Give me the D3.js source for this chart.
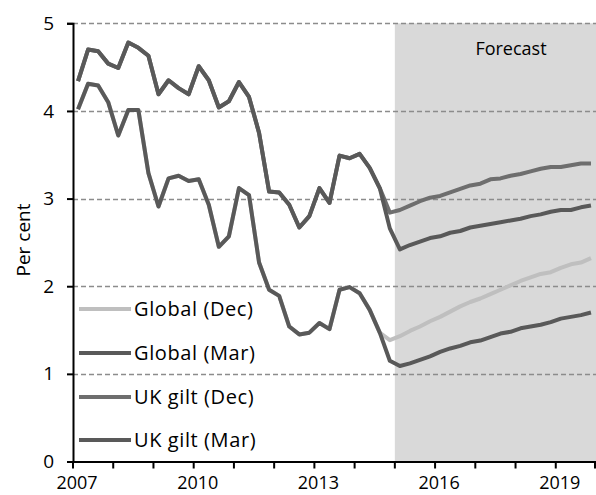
<!DOCTYPE html>
<html>
<head>
<meta charset="utf-8">
<script src="https://cdn.jsdelivr.net/npm/d3@7"></script>
<style>
body { margin: 0; background: #fff; }
svg text { font-family: "Open Sans", "DejaVu Sans", sans-serif; fill: #000; }
</style>
</head>
<body>
<div id="chart"></div>
<script>
// quarters 2007Q1 .. 2019Q4
var quarters = [];
for (var yr = 2007; yr <= 2019; yr++) {
	for (var q = 1; q <= 4; q++) quarters.push(yr + "Q" + q);
}
var yearLabels = ["2007", "2010", "2013", "2016", "2019"];
var yTicks = [0, 1, 2, 3, 4, 5];
var forecastStart = "2015Q1";

// history shared by Dec and Mar vintages (2007Q1 .. 2014Q3)
var globalHist = [4.02, 4.31, 4.29, 4.10, 3.72, 4.01, 4.01, 3.29, 2.91, 3.23, 3.26, 3.20,
	3.22, 2.93, 2.45, 2.57, 3.12, 3.04, 2.27, 1.96, 1.89, 1.54, 1.45, 1.47,
	1.58, 1.51, 1.96, 1.99, 1.92, 1.73, 1.47];
var ukHist = [4.34, 4.70, 4.68, 4.54, 4.49, 4.78, 4.72, 4.63, 4.19, 4.35, 4.26, 4.19,
	4.51, 4.35, 4.04, 4.11, 4.33, 4.16, 3.75, 3.08, 3.07, 2.93, 2.67, 2.80,
	3.12, 2.95, 3.49, 3.46, 3.51, 3.35, 3.12];

// from 2014Q4 on
var globalDec = [1.385, 1.43, 1.49, 1.54, 1.60, 1.65, 1.71, 1.77, 1.82, 1.86, 1.91,
	1.96, 2.01, 2.06, 2.10, 2.14, 2.16, 2.21, 2.25, 2.27, 2.32];
var globalMar = [1.15, 1.09, 1.12, 1.16, 1.20, 1.25, 1.29, 1.32, 1.36, 1.38, 1.42,
	1.46, 1.48, 1.52, 1.54, 1.56, 1.59, 1.63, 1.65, 1.67, 1.70];
var ukDec = [2.84, 2.87, 2.92, 2.97, 3.01, 3.03, 3.07, 3.11, 3.15, 3.17, 3.22,
	3.23, 3.26, 3.28, 3.31, 3.34, 3.36, 3.36, 3.38, 3.40, 3.40];
var ukMar = [2.66, 2.42, 2.47, 2.51, 2.55, 2.57, 2.61, 2.63, 2.67, 2.69, 2.71,
	2.73, 2.75, 2.77, 2.80, 2.82, 2.85, 2.87, 2.87, 2.90, 2.92];

var seriesNames = ["Global (Dec)", "Global (Mar)", "UK gilt (Dec)", "UK gilt (Mar)"];
var seriesColors = ["#bfbfbf", "#595959", "#6e6e6e", "#595959"];
var seriesValues = [globalHist.concat(globalDec), globalHist.concat(globalMar),
	ukHist.concat(ukDec), ukHist.concat(ukMar)];

var width = 596, height = 495;
var margin = {left: 73, right: 0, top: 23, bottom: 33};
var fontSize = "19px";

var svgContainer = d3.select("#chart").append("svg")
	.attr("width", width)
	.attr("height", height);

var x = d3.scaleBand()
	.domain(quarters)
	.range([margin.left, width - margin.right]);
var y = d3.scaleLinear()
	.domain([0, 5])
	.range([height - margin.bottom - 0.5, margin.top + 0.3]);

// forecast shading
svgContainer.append("rect")
	.attr("x", x(forecastStart))
	.attr("y", y(5))
	.attr("width", width - margin.right - x(forecastStart))
	.attr("height", y(0) - y(5))
	.attr("fill", "#d9d9d9");

// dashed gridlines
svgContainer.append("g").selectAll("line")
	.data(yTicks.filter(function(d){ return d > 0; }))
	.enter().append("line")
	.attr("x1", margin.left)
	.attr("x2", width)
	.attr("y1", function(d){ return Math.round(y(d)) + 0.5; })
	.attr("y2", function(d){ return Math.round(y(d)) + 0.5; })
	.attr("stroke", "#8c8c8c")
	.attr("stroke-width", 1.5)
	.attr("stroke-dasharray", "5,3");

svgContainer.append("text")
	.attr("x", 511)
	.attr("y", 55)
	.attr("text-anchor", "middle")
	.style("font-size", "18px")
	.text("Forecast");

// lines
var line = d3.line()
	.x(function(d, i){ return x(quarters[i]) + x.bandwidth() / 2; })
	.y(function(d){ return y(d); });

for (var s = 0; s < seriesValues.length; s++) {
	svgContainer.append("path")
		.datum(seriesValues[s])
		.attr("d", line)
		.attr("fill", "none")
		.attr("stroke", seriesColors[s])
		.attr("stroke-width", 4)
		.attr("stroke-linejoin", "round");
}

// y axis
var yAxis = d3.axisLeft(y).tickValues(yTicks).tickSize(6).tickFormat(d3.format("d"));
var gy = svgContainer.append("g")
	.attr("transform", "translate(" + margin.left + ",0)")
	.call(yAxis);
gy.select(".domain").attr("stroke", "#000").attr("stroke-width", 2);
gy.selectAll(".tick line").attr("stroke", "#000").attr("stroke-width", 2);
gy.selectAll(".tick text").style("font-size", fontSize).attr("x", -19)
	.style("font-family", "'Open Sans', 'DejaVu Sans', sans-serif");

// x axis: tick per year, label every 3 years
var xAxis = d3.axisBottom(x)
	.tickValues(quarters.filter(function(d){ return d.slice(4) == "Q1"; }))
	.tickSize(0)
	.tickFormat("");
var gx = svgContainer.append("g")
	.attr("transform", "translate(0," + y(0) + ")")
	.call(xAxis);
gx.select(".domain").attr("stroke", "#000").attr("stroke-width", 2);
gx.selectAll(".tick").remove();

var yearTicks = quarters.filter(function(d){ return d.slice(4) == "Q1"; });
yearTicks.push("end");
gx.selectAll("line.yt")
	.data(yearTicks)
	.enter().append("line")
	.attr("class", "yt")
	.attr("x1", function(d){ return d == "end" ? width - 1 : x(d); })
	.attr("x2", function(d){ return d == "end" ? width - 1 : x(d); })
	.attr("y1", 0)
	.attr("y2", 7)
	.attr("stroke", "#000")
	.attr("stroke-width", 2);

gx.selectAll("text.yl")
	.data(yearLabels)
	.enter().append("text")
	.attr("class", "yl")
	.attr("x", function(d){ return x(d + "Q1") + x.bandwidth() / 2 - 1; })
	.attr("y", 27)
	.attr("text-anchor", "middle")
	.style("font-size", "18px")
	.text(function(d){ return d; });

// y title
svgContainer.append("text")
	.attr("transform", "translate(30,240) rotate(-90)")
	.attr("text-anchor", "middle")
	.style("font-size", fontSize)
	.text("Per cent");

// legend
var legendY = [309, 353, 397, 440];
for (var k = 0; k < seriesNames.length; k++) {
	svgContainer.append("line")
		.attr("x1", 79).attr("x2", 131)
		.attr("y1", legendY[k]).attr("y2", legendY[k])
		.attr("stroke", seriesColors[k])
		.attr("stroke-width", 4);
	svgContainer.append("text")
		.attr("x", 134)
		.attr("y", legendY[k] + 7)
		.style("font-size", "20px")
		.style("letter-spacing", "0.6px")
		.text(seriesNames[k]);
}
</script>
</body>
</html>
